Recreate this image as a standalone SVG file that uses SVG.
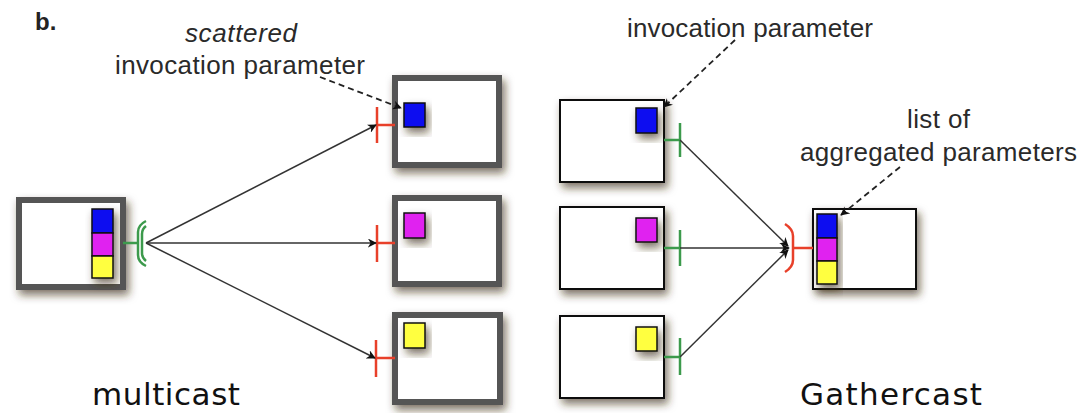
<svg xmlns="http://www.w3.org/2000/svg" width="1086" height="413" viewBox="0 0 1086 413">
  <style>
    .lbl { font-family: "Liberation Sans", Arial, sans-serif; font-size: 26px; fill: #2a2a2a; }
    .title { font-family: "DejaVu Sans", Verdana, sans-serif; font-size: 31px; fill: #111; }
    .thick { fill: #fff; stroke: #555; stroke-width: 6; }
    .thin { fill: #fff; stroke: #111; stroke-width: 2; }
    .blue { fill: #0a10f0; stroke: #111; stroke-width: 1.5; }
    .mag { fill: #e020f0; stroke: #111; stroke-width: 1.5; }
    .yel { fill: #ffff40; stroke: #111; stroke-width: 1.5; }
    .green { fill: none; stroke: #3c9a4c; stroke-width: 2.5; }
    .red { fill: none; stroke: #e8402a; stroke-width: 2.5; }
    .edge { fill: none; stroke: #333; stroke-width: 1.5; marker-end: url(#arr); }
    .dash { fill: none; stroke: #222; stroke-width: 1.8; stroke-dasharray: 6 4; marker-end: url(#arr); }
  </style>
  <defs>
    <filter id="sh" x="-30%" y="-30%" width="160%" height="170%">
      <feDropShadow dx="3" dy="5" stdDeviation="4" flood-color="#3a2c10" flood-opacity="0.65"/>
    </filter>
    <marker id="arr" viewBox="0 0 10 10" refX="9" refY="5" markerWidth="9" markerHeight="9" markerUnits="userSpaceOnUse" orient="auto">
      <path d="M0,0 L10,5 L0,10 L3,5 Z" fill="#111"/>
    </marker>
  </defs>

  <rect width="1086" height="413" fill="#fff"/>

  <text x="35" y="30" font-family="Liberation Sans, Arial, sans-serif" font-size="24" font-weight="bold" fill="#222">b.</text>

  <!-- multicast: source component -->
  <g id="mc-source">
    <rect class="thick" x="19" y="200" width="104" height="87" filter="url(#sh)"/>
    <g filter="url(#sh)">
      <rect class="blue" x="92" y="209" width="21" height="24"/>
      <rect class="mag" x="92" y="233" width="21" height="23"/>
      <rect class="yel" x="92" y="256" width="21" height="22"/>
    </g>
    <line class="green" x1="123" y1="243" x2="139" y2="243"/>
    <path class="green" d="M146,221 Q138,225 138,232 L138,255 Q138,262 146,266"/>
    <path class="green" d="M146,226 Q142,229 142,234 L142,253 Q142,258 146,261" stroke-width="1.8"/>
  </g>

  <!-- multicast: target components -->
  <g id="mc-target-1">
    <rect class="thick" x="395" y="78" width="104" height="87" filter="url(#sh)"/>
    <rect class="blue" x="404" y="103" width="21" height="24" filter="url(#sh)"/>
    <line class="red" x1="377" y1="107" x2="377" y2="143"/>
    <line class="red" x1="377" y1="125" x2="395" y2="125"/>
  </g>
  <g id="mc-target-2">
    <rect class="thick" x="395" y="198" width="104" height="86" filter="url(#sh)"/>
    <rect class="mag" x="404" y="213" width="21" height="25" filter="url(#sh)"/>
    <line class="red" x1="377" y1="225" x2="377" y2="262"/>
    <line class="red" x1="377" y1="243" x2="395" y2="243"/>
  </g>
  <g id="mc-target-3">
    <rect class="thick" x="395" y="315" width="105" height="87" filter="url(#sh)"/>
    <rect class="yel" x="404" y="323" width="21" height="25" filter="url(#sh)"/>
    <line class="red" x1="376" y1="340" x2="376" y2="377"/>
    <line class="red" x1="376" y1="358" x2="395" y2="358"/>
  </g>

  <!-- gathercast: source components -->
  <g id="gc-source-1">
    <rect class="thin" x="560" y="100" width="104" height="82" filter="url(#sh)"/>
    <rect class="blue" x="636" y="108" width="21" height="25" filter="url(#sh)"/>
    <line class="green" x1="664" y1="140" x2="680" y2="140"/>
    <line class="green" x1="680" y1="123" x2="680" y2="157"/>
  </g>
  <g id="gc-source-2">
    <rect class="thin" x="560" y="207" width="104" height="82" filter="url(#sh)"/>
    <rect class="mag" x="636" y="218" width="21" height="24" filter="url(#sh)"/>
    <line class="green" x1="664" y1="248" x2="680" y2="248"/>
    <line class="green" x1="680" y1="230" x2="680" y2="266"/>
  </g>
  <g id="gc-source-3">
    <rect class="thin" x="560" y="316" width="104" height="82" filter="url(#sh)"/>
    <rect class="yel" x="636" y="327" width="21" height="24" filter="url(#sh)"/>
    <line class="green" x1="664" y1="357" x2="680" y2="357"/>
    <line class="green" x1="680" y1="338" x2="680" y2="375"/>
  </g>

  <!-- gathercast: target component -->
  <g id="gc-target">
    <rect class="thin" x="813" y="209" width="103" height="80" filter="url(#sh)"/>
    <g filter="url(#sh)">
      <rect class="blue" x="817" y="214" width="20" height="24"/>
      <rect class="mag" x="817" y="238" width="20" height="23"/>
      <rect class="yel" x="817" y="261" width="20" height="23"/>
    </g>
    <line class="red" x1="794" y1="248" x2="813" y2="248"/>
    <path class="red" d="M785,224 Q793,229 793,236 L793,260 Q793,267 785,272" stroke-width="3.5"/>
  </g>

  <!-- connectors -->
  <g id="connectors">
    <line class="edge" x1="146" y1="243" x2="376" y2="125"/>
    <line class="edge" x1="146" y1="243" x2="376" y2="243"/>
    <line class="edge" x1="146" y1="243" x2="375" y2="358"/>
    <line class="edge" x1="680" y1="140" x2="788" y2="246"/>
    <line class="edge" x1="680" y1="248" x2="789" y2="248"/>
    <line class="edge" x1="680" y1="357" x2="788" y2="250"/>
    <line class="dash" x1="320" y1="77" x2="401" y2="108"/>
    <line class="dash" x1="735" y1="40" x2="664" y2="107"/>
    <line class="dash" x1="900" y1="167" x2="841" y2="215"/>
  </g>

  <!-- labels -->
  <text class="lbl" x="241" y="42" text-anchor="middle" font-style="italic" textLength="112">scattered</text>
  <text class="lbl" x="115" y="74" textLength="250">invocation parameter</text>
  <text class="lbl" x="627" y="37" textLength="246">invocation parameter</text>
  <text class="lbl" x="907" y="128" textLength="63">list of</text>
  <text class="lbl" x="800" y="161" textLength="277">aggregated parameters</text>
  <text class="title" x="92" y="405" textLength="148">multicast</text>
  <text class="title" x="800" y="405" textLength="182">Gathercast</text>
</svg>
